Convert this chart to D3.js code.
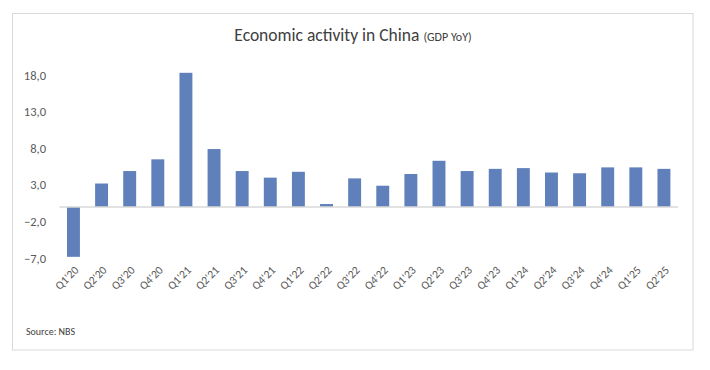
<!DOCTYPE html>
<html><head><meta charset="utf-8">
<script src="https://cdn.jsdelivr.net/npm/d3@7"></script>
<style>body{margin:0;background:#fff}svg{display:block}</style>
</head><body>
<script>
const categories = ["Q1'20","Q2'20","Q3'20","Q4'20","Q1'21","Q2'21","Q3'21","Q4'21","Q1'22","Q2'22","Q3'22","Q4'22","Q1'23","Q2'23","Q3'23","Q4'23","Q1'24","Q2'24","Q3'24","Q4'24","Q1'25","Q2'25"];
const gdpYoY = [-6.8,3.2,4.9,6.5,18.3,7.9,4.9,4.0,4.8,0.4,3.9,2.9,4.5,6.3,4.9,5.2,5.3,4.7,4.6,5.4,5.4,5.2];
const yTicks = [-7,-2,3,8,13,18];
const title = "Economic activity in China";
const subtitle = "(GDP YoY)";
const source = "Source: NBS";

const W = 710, H = 370;
const svg = d3.select("body").append("svg").attr("width", W).attr("height", H);
const font = "Calibri, Carlito, Lato, sans-serif";

svg.append("rect").attr("x",12.5).attr("y",13.5).attr("width",680.5).attr("height",336.5)
  .attr("fill","#fff").attr("stroke","#d9d9d9").attr("stroke-width",1);

const x = d3.scaleBand().domain(categories).range([59.4, 678]).paddingInner(0.54).paddingOuter(0.27);
const y = d3.scaleLinear().domain([-7, 18]).range([258.3, 75]);

const t = svg.append("text").attr("x", 353).attr("y", 40.5).attr("text-anchor","middle")
  .attr("font-family", font).attr("fill","#404040");
t.append("tspan").attr("font-size", "17.5px").text(title);
t.append("tspan").attr("font-size", "12px").attr("dx", 4).text(subtitle);

svg.append("g").selectAll("rect").data(gdpYoY).join("rect")
  .attr("x", (d,i) => x(categories[i]))
  .attr("width", x.bandwidth())
  .attr("y", d => y(Math.max(0,d)))
  .attr("height", d => Math.abs(y(d) - y(0)))
  .attr("fill", "#6080bc");

svg.append("line").attr("x1",59.4).attr("x2",678).attr("y1",y(0)).attr("y2",y(0))
  .attr("stroke","#d9d9d9").attr("stroke-width",1.5);

const yAxis = svg.append("g").attr("transform","translate(46,0)")
  .call(d3.axisLeft(y).tickValues(yTicks).tickSize(0).tickPadding(0)
    .tickFormat(d => d3.format(".1f")(d).replace(".", ",")));
yAxis.select(".domain").remove();
yAxis.selectAll("text").attr("font-family", font).attr("font-size","12.5px").attr("fill","#595959");

const xAxis = svg.append("g").attr("transform","translate(0,266)")
  .call(d3.axisBottom(x).tickSize(0).tickPadding(0));
xAxis.select(".domain").remove();
xAxis.selectAll("text").attr("font-family", font).attr("font-size","11.5px").attr("fill","#595959")
  .attr("text-anchor","end").attr("dy","0.35em").attr("dx","0")
  .attr("transform","translate(3,2) rotate(-45)");

svg.append("text").attr("x",26).attr("y",335).attr("font-family",font).attr("font-size","10px")
  .attr("fill","#404040").text(source);
</script>
</body></html>
